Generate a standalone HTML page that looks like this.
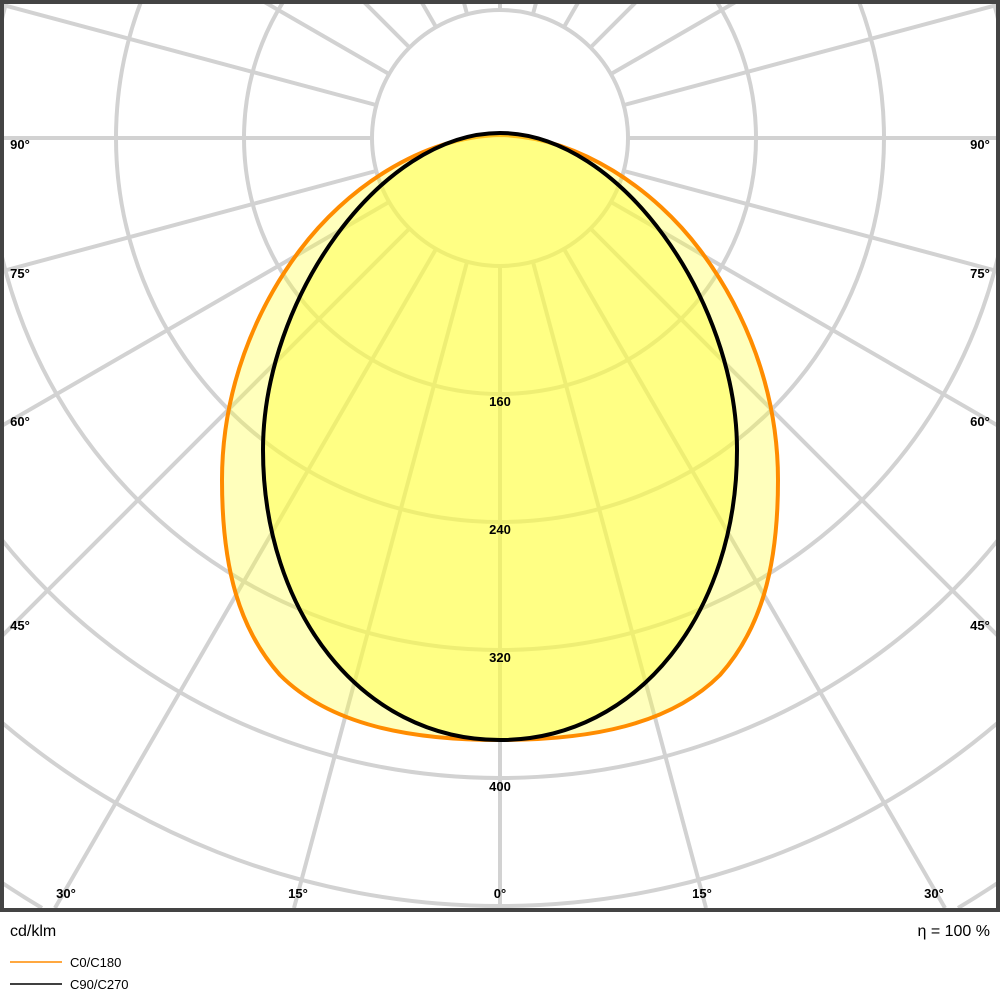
<!DOCTYPE html>
<html><head><meta charset="utf-8"><style>
html,body{margin:0;padding:0;background:#fff;width:1000px;height:1000px;overflow:hidden;}
svg{display:block;position:absolute;left:0;top:0;overflow:hidden;}
text{font-family:"Liberation Sans",sans-serif;}
</style></head><body>
<svg width="1000" height="1000" viewBox="0 0 1000 1000" xmlns="http://www.w3.org/2000/svg">
<defs>
<clipPath id="pc"><rect x="2" y="2" width="996" height="908"/></clipPath>
</defs>
<rect width="1000" height="1000" fill="#fff"/>
<g clip-path="url(#pc)" stroke="#d2d2d2" stroke-width="4" fill="none">
<circle cx="500" cy="138" r="128"/>
<circle cx="500" cy="138" r="256"/>
<circle cx="500" cy="138" r="384"/>
<circle cx="500" cy="138" r="512"/>
<circle cx="500" cy="138" r="640"/>
<circle cx="500" cy="138" r="768"/>
<path d="M42,908 A896,896 0 1 1 958,908"/>
<path d="M-175,908 A1024,1024 0 1 1 1175,908"/>
<g id="spokes">
<line x1="500" y1="266" x2="500" y2="908"/>
<line x1="467" y1="262" x2="294" y2="908"/>
<line x1="436" y1="249" x2="55" y2="908"/>
<line x1="409" y1="229" x2="-236" y2="874"/>
<line x1="389" y1="202" x2="-400" y2="658"/>
<line x1="376" y1="171" x2="-504" y2="407"/>
<line x1="372" y1="138" x2="-540" y2="138"/>
<line x1="376" y1="105" x2="-504" y2="-131"/>
<line x1="389" y1="74" x2="-400" y2="-382"/>
<line x1="409" y1="47" x2="-236" y2="-598"/>
<line x1="436" y1="27" x2="-20" y2="-763"/>
<line x1="467" y1="14" x2="231" y2="-866"/>
<line x1="500" y1="10" x2="500" y2="-900"/>
</g>
<use href="#spokes" transform="translate(1000,0) scale(-1,1)"/>
</g>
<path d="M500,740 C410,740 330,725 280,675 C240,630 222,570 222,480 C222,390 255,310 300,250 C345,190 420,137 500,135 C580,137 655,190 700,250 C745,310 778,390 778,480 C778,570 760,630 720,675 C670,725 590,740 500,740Z" fill="#ffff40" fill-opacity="0.35" stroke="#ff8c00" stroke-width="4"/>
<path d="M500,740 C360,740 263,610 263,450 C263,300 380,133 500,133 C620,133 737,300 737,450 C737,610 640,740 500,740Z" fill="#ffff40" fill-opacity="0.45" stroke="#000" stroke-width="4"/>
<g font-size="13" font-weight="bold" fill="#000" text-anchor="middle">
<text x="500" y="406">160</text>
<text x="500" y="534">240</text>
<text x="500" y="662">320</text>
<text x="500" y="791">400</text>
<text x="500" y="898">0°</text>
<text x="298" y="898">15°</text>
<text x="702" y="898">15°</text>
<text x="66" y="898">30°</text>
<text x="934" y="898">30°</text>
<text x="20" y="149">90°</text>
<text x="20" y="278">75°</text>
<text x="20" y="426">60°</text>
<text x="20" y="630">45°</text>
<text x="980" y="149">90°</text>
<text x="980" y="278">75°</text>
<text x="980" y="426">60°</text>
<text x="980" y="630">45°</text>
</g>
<rect x="2" y="2" width="996" height="908" fill="none" stroke="#444" stroke-width="4"/>
<text x="10" y="936" font-size="16" fill="#000">cd/klm</text>
<text x="990" y="936" font-size="16" fill="#000" text-anchor="end">η = 100 %</text>
<line x1="10" y1="962" x2="62" y2="962" stroke="#ff8c00" stroke-width="1.5"/>
<line x1="10" y1="984" x2="62" y2="984" stroke="#000" stroke-width="1.5"/>
<text x="70" y="967" font-size="13" fill="#000">C0/C180</text>
<text x="70" y="989" font-size="13" fill="#000">C90/C270</text>
</svg>
</body></html>
